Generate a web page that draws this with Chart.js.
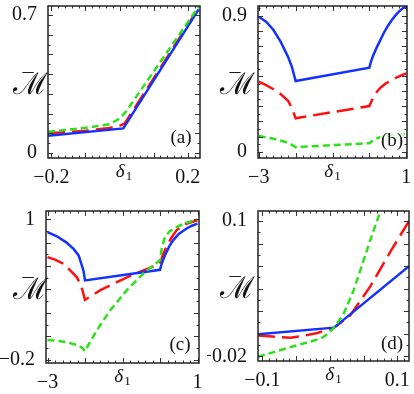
<!DOCTYPE html>
<html>
<head>
<meta charset="utf-8">
<script src="https://cdn.jsdelivr.net/npm/chart.js@4.4.1/dist/chart.umd.min.js"></script>
<style>
  html, body { margin: 0; padding: 0; background: #fff; }
  #wrap { position: relative; width: 414px; height: 394px; }
  .panel { position: absolute; width: 207px; height: 197px; }
</style>
</head>
<body>
<div id="wrap">
  <div class="panel" style="left:0;top:0"><canvas id="pa" width="207" height="197"></canvas></div>
  <div class="panel" style="left:207px;top:0"><canvas id="pb" width="207" height="197"></canvas></div>
  <div class="panel" style="left:0;top:197px"><canvas id="pc" width="207" height="197"></canvas></div>
  <div class="panel" style="left:207px;top:197px"><canvas id="pd" width="207" height="197"></canvas></div>
</div>
<script>
// ---- panel (a) ----
const aBlueX  = [-0.21, 0.011, 0.232];
const aBlueY  = [0.088, 0.125, 0.729];
const aRedX   = [-0.21, -0.1, -0.03, 0.0, 0.015, 0.232];
const aRedY   = [0.100, 0.113, 0.127, 0.138, 0.150, 0.735];
const aGreenX = [-0.21, -0.1, -0.03, -0.005, 0.01, 0.022, 0.232];
const aGreenY = [0.108, 0.128, 0.146, 0.170, 0.193, 0.218, 0.743];
const aXTicks = [-0.2, 0.2];
const aYTicks = [0, 0.7];

// ---- panel (b) ----
const bBlueX  = [-3, -2.8, -2.6, -2.4, -2.2, -2.1, -2.0, 0, 0.05, 0.1, 0.2, 0.3, 0.4, 0.5, 0.6, 0.7, 0.8, 0.9, 1.0];
const bBlueY  = [0.893, 0.860, 0.805, 0.725, 0.625, 0.560, 0.468, 0.556, 0.600, 0.635, 0.690, 0.740, 0.790, 0.832, 0.868, 0.900, 0.927, 0.948, 0.964];
const bRedX   = [-3, -2.8, -2.6, -2.4, -2.2, -2.1, -2.0, 0, 0.05, 0.13, 0.2, 0.3, 0.45, 0.6, 0.7, 0.85, 1.0];
const bRedY   = [0.463, 0.440, 0.413, 0.380, 0.335, 0.290, 0.221, 0.302, 0.330, 0.372, 0.395, 0.423, 0.452, 0.472, 0.486, 0.503, 0.518];
const bGreenX = [-3, -2.6, -2.3, -2.15, -2.0, 0, 0.1, 0.2, 0.3, 0.5, 0.75, 1.0];
const bGreenY = [0.104, 0.085, 0.066, 0.052, 0.030, 0.056, 0.075, 0.088, 0.097, 0.106, 0.113, 0.117];
const bXTicks = [-3, 1];
const bYTicks = [0, 0.9];

// ---- panel (c) ----
const cBlueX  = [-3, -2.75, -2.5, -2.3, -2.17, -2.1, -2.04, -2.0, 0, 0.05, 0.13, 0.25, 0.35, 0.5, 0.7, 0.85, 1.0];
const cBlueY  = [0.891, 0.855, 0.803, 0.745, 0.691, 0.620, 0.560, 0.477, 0.568, 0.625, 0.691, 0.770, 0.820, 0.875, 0.919, 0.945, 0.963];
const cRedX   = [-3, -2.8, -2.57, -2.22, -2.1, -2.0, -1.6, -1.15, -0.71, 0, 0.08, 0.17, 0.3, 0.44, 0.7, 1.0];
const cRedY   = [0.677, 0.655, 0.620, 0.506, 0.430, 0.311, 0.392, 0.463, 0.529, 0.620, 0.700, 0.763, 0.840, 0.906, 0.962, 0.991];
const cGreenX = [-3, -2.7, -2.48, -2.17, -2.07, -2.0, -1.85, -1.685, -1.5, -1.33, -1.1, -0.89, -0.65, -0.45, -0.2, 0, 0.05, 0.13, 0.25, 0.44, 0.7, 1.0];
const cGreenY = [-0.032, -0.040, -0.051, -0.080, -0.100, -0.129, -0.040, 0.049, 0.140, 0.220, 0.310, 0.392, 0.470, 0.534, 0.600, 0.649, 0.760, 0.848, 0.895, 0.934, 0.971, 0.997];
const cXTicks = [-3, 1];
const cYTicks = [-0.2, 1];

// ---- panel (d) ----
const dBlueX  = [-0.1064, 0.0062, 0.1173];
const dBlueY  = [-0.0005, 0.0054, 0.060];
const dRedX   = [-0.1064, -0.085, -0.058, -0.04, -0.0185, 0.0062, 0.03, 0.06, 0.09, 0.1173];
const dRedY   = [-0.0015, -0.0025, -0.0035, -0.002, 0.0007, 0.0054, 0.016, 0.042, 0.073, 0.100];
const dGreenX = [-0.1064, -0.058, -0.0136, -0.0037, 0.0062, 0.02, 0.035, 0.05, 0.065, 0.0753, 0.08];
const dGreenY = [-0.0205, -0.0118, -0.0044, -0.0005, 0.0054, 0.017, 0.038, 0.065, 0.092, 0.109, 0.117];
const dXTicks = [-0.1, 0.1];
const dYTicks = [-0.02, 0.1];

const SERIF = '"Liberation Serif", "DejaVu Serif", serif';
const BLUE = '#1432ff', RED = '#ff1010', GREEN = '#2ee01a';

function pts(xs, ys) {
    return xs.map((x, i) => ({ x: x, y: ys[i] }));
}

function fmt(v) {
    return v < 0 ? '\u2212' + String(-v) : String(v);
}

// frame, inward ticks, axis titles and panel letter
const decor = {
    id: 'decor',
    afterDatasetsDraw(chart, args, o) {
        const ctx = chart.ctx;
        const a = chart.chartArea;
        const sx = chart.scales.x, sy = chart.scales.y;
        ctx.save();

        // minor / major ticks pointing inwards
        ctx.strokeStyle = '#333';
        ctx.lineWidth = 1;
        ctx.beginPath();
        for (let k = Math.ceil(sx.min / o.xStep - 1e-9); k * o.xStep <= sx.max + 1e-9; k++) {
            const v = k * o.xStep;
            const p = Math.round(sx.getPixelForValue(v)) + 0.5;
            const len = Math.abs(v / o.xMajor - Math.round(v / o.xMajor)) < 1e-6 ? 5 : 2.5;
            ctx.moveTo(p, a.bottom); ctx.lineTo(p, a.bottom - len);
            ctx.moveTo(p, a.top); ctx.lineTo(p, a.top + len);
        }
        for (let k = Math.ceil(sy.min / o.yStep - 1e-9); k * o.yStep <= sy.max + 1e-9; k++) {
            const v = k * o.yStep;
            const p = Math.round(sy.getPixelForValue(v)) + 0.5;
            const len = Math.abs(v / o.yMajor - Math.round(v / o.yMajor)) < 1e-6 ? 5 : 2.5;
            ctx.moveTo(a.left, p); ctx.lineTo(a.left + len, p);
            ctx.moveTo(a.right, p); ctx.lineTo(a.right - len, p);
        }
        ctx.stroke();

        // frame
        ctx.strokeStyle = '#222';
        ctx.lineWidth = 1.5;
        ctx.strokeRect(a.left, a.top, a.right - a.left, a.bottom - a.top);

        // panel letter with a light box
        const lx = a.right + o.letterDX, ly = a.bottom + o.letterDY;
        ctx.fillStyle = 'rgba(255,255,255,0.75)';
        ctx.fillRect(lx - 12, ly - 10, 24, 20);
        ctx.fillStyle = '#111';
        ctx.font = '19px ' + SERIF;
        ctx.textAlign = 'center';
        ctx.textBaseline = 'middle';
        ctx.fillText(o.letter, lx, ly);

        // x title: delta_1
        const cx = (a.left + a.right) / 2;
        const by = a.bottom + 18.5;
        ctx.textAlign = 'left';
        ctx.textBaseline = 'alphabetic';
        ctx.font = 'italic 19px ' + SERIF;
        const dw = ctx.measureText('\u03b4').width;
        ctx.font = '13px ' + SERIF;
        const sw = ctx.measureText('1').width;
        const x0 = cx - (dw + sw + 1) / 2;
        ctx.font = 'italic 19px ' + SERIF;
        ctx.fillText('\u03b4', x0, by);
        ctx.font = '13px ' + SERIF;
        ctx.fillText('1', x0 + dw + 1, by + 3.5);

        // y title: script M with a bar
        const my = (a.top + a.bottom) / 2;
        ctx.font = '30px "DejaVu Serif", serif';
        ctx.textAlign = 'center';
        ctx.fillText('\u2133', 30, my + 12);
        ctx.font = '22px ' + SERIF;
        ctx.fillText('\u00af', 28, my + 6);

        ctx.restore();
    }
};

function makePanel(id, f, xr, yr, xt, yt, series, deco) {
    const datasets = [
        { data: pts(series[0], series[1]), borderColor: BLUE, borderWidth: 2.5, order: 2 },
        { data: pts(series[2], series[3]), borderColor: RED, borderWidth: 2.5, borderDash: [17, 7], order: 3 },
        { data: pts(series[4], series[5]), borderColor: GREEN, borderWidth: 2.5, borderDash: [7, 4], order: 1 }
    ];
    datasets.forEach(d => { d.pointRadius = 0; d.tension = 0; d.fill = false; });

    return new Chart(document.getElementById(id), {
        type: 'line',
        data: { datasets: datasets },
        options: {
            responsive: false,
            animation: false,
            layout: { padding: { top: f.T, right: 207 - f.R, left: 0, bottom: 0 } },
            plugins: { legend: { display: false }, tooltip: { enabled: false }, decor: deco },
            scales: {
                x: {
                    type: 'linear', min: xr[0], max: xr[1],
                    grid: { display: false }, border: { display: false },
                    afterBuildTicks: s => { s.ticks = xt.map(v => ({ value: v })); },
                    afterFit: s => { s.height = 197 - f.B; s.paddingLeft = 0; s.paddingRight = 0; },
                    ticks: {
                        autoSkip: false, maxRotation: 0, padding: 0, color: '#111',
                        font: { family: SERIF, size: 20 },
                        callback: v => fmt(v)
                    }
                },
                y: {
                    type: 'linear', min: yr[0], max: yr[1],
                    grid: { display: false }, border: { display: false },
                    afterBuildTicks: s => { s.ticks = yt.map(v => ({ value: v })); },
                    afterFit: s => { s.width = f.L; s.paddingTop = 0; s.paddingBottom = 0; },
                    ticks: {
                        autoSkip: false, padding: 3, color: '#111',
                        font: { family: SERIF, size: 20 },
                        callback: v => fmt(v)
                    }
                }
            }
        },
        plugins: [decor]
    });
}

makePanel('pa', { L: 48, R: 200, T: 6, B: 158 }, [-0.21, 0.236], [-0.025, 0.746], aXTicks, aYTicks,
    [aBlueX, aBlueY, aRedX, aRedY, aGreenX, aGreenY],
    { letter: '(a)', letterDX: -19, letterDY: -20, xStep: 0.02, xMajor: 0.1, yStep: 0.05, yMajor: 0.1 });

makePanel('pb', { L: 51, R: 200, T: 6, B: 158 }, [-3.02, 1.02], [-0.042, 0.964], bXTicks, bYTicks,
    [bBlueX, bBlueY, bRedX, bRedY, bGreenX, bGreenY],
    { letter: '(b)', letterDX: -15, letterDY: -17, xStep: 0.2, xMajor: 1, yStep: 0.05, yMajor: 0.1 });

makePanel('pc', { L: 46, R: 199, T: 14, B: 166 }, [-3.04, 1.04], [-0.229, 1.071], cXTicks, cYTicks,
    [cBlueX, cBlueY, cRedX, cRedY, cGreenX, cGreenY],
    { letter: '(c)', letterDX: -19, letterDY: -18, xStep: 0.2, xMajor: 1, yStep: 0.1, yMajor: 0.2 });

makePanel('pd', { L: 51, R: 202, T: 14, B: 164 }, [-0.1064, 0.1173], [-0.0242, 0.1089], dXTicks, dYTicks,
    [dBlueX, dBlueY, dRedX, dRedY, dGreenX, dGreenY],
    { letter: '(d)', letterDX: -17, letterDY: -17, xStep: 0.01, xMajor: 0.05, yStep: 0.01, yMajor: 0.02 });
</script>
</body>
</html>
